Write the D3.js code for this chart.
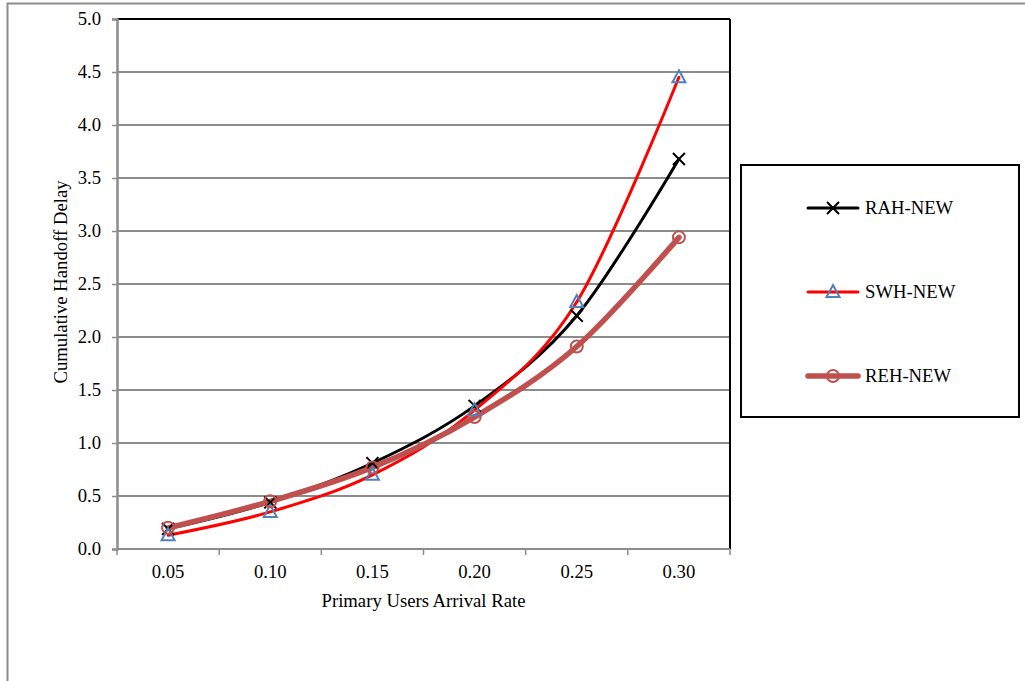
<!DOCTYPE html>
<html>
<head>
<meta charset="utf-8">
<script src="https://cdn.jsdelivr.net/npm/d3@7"></script>
<style>
  html, body { margin: 0; padding: 0; background: #fff; }
  svg { display: block; }
  svg text { font-family: "Liberation Serif", "Times New Roman", serif; fill: #000; }
</style>
</head>
<body>
<svg id="chart" width="1025" height="681"></svg>
<script>
// Categories along the x axis
const arrivalRates = ["0.05", "0.10", "0.15", "0.20", "0.25", "0.30"];

// Cumulative handoff delay per scheme
const rahNew = [0.19, 0.44, 0.81, 1.35, 2.20, 3.68];
const swhNew = [0.13, 0.35, 0.70, 1.31, 2.33, 4.45];
const rehNew = [0.20, 0.45, 0.77, 1.245, 1.91, 2.94];

const yTicks = [0, 0.5, 1.0, 1.5, 2.0, 2.5, 3.0, 3.5, 4.0, 4.5, 5.0];

const FONT = "Liberation Serif";
const FS = 18.7;

const series = [
  { name: "RAH-NEW", values: rahNew, color: "#000000", width: 3, marker: "cross" },
  { name: "SWH-NEW", values: swhNew, color: "#ff0000", width: 3, marker: "triangle" },
  { name: "REH-NEW", values: rehNew, color: "#c0504d", width: 5.5, marker: "circle" }
];

const svg = d3.select("#chart");

// Outer frame of the figure
svg.append("path")
  .attr("d", "M7.5,681 L7.5,3.5 L1025,3.5")
  .attr("fill", "none").attr("stroke", "#8c8c8c").attr("stroke-width", 2);

const plot = { left: 117, top: 19, right: 730, bottom: 549 };

const x = d3.scaleBand().domain(arrivalRates).range([plot.left, plot.right]);
const y = d3.scaleLinear().domain([0, 5]).range([plot.bottom, plot.top]);

// Horizontal gridlines
svg.append("g").selectAll("line").data(yTicks.filter(t => t > 0 && t < 5)).join("line")
  .attr("x1", plot.left).attr("x2", plot.right)
  .attr("y1", d => y(d)).attr("y2", d => y(d))
  .attr("stroke", "#8c8c8c").attr("stroke-width", 2);

// Plot frame: top and right edges
svg.append("line").attr("x1", plot.left).attr("x2", plot.right)
  .attr("y1", plot.top).attr("y2", plot.top).attr("stroke", "#000").attr("stroke-width", 2);
svg.append("line").attr("x1", plot.right).attr("x2", plot.right)
  .attr("y1", plot.top).attr("y2", plot.bottom).attr("stroke", "#000").attr("stroke-width", 2);

// Y axis
const yAxis = svg.append("g")
  .attr("transform", `translate(${plot.left},0)`)
  .call(d3.axisLeft(y).tickValues(yTicks).tickFormat(d3.format(".1f")).tickSize(5).tickPadding(11));
yAxis.attr("font-family", FONT).attr("font-size", FS);
yAxis.select(".domain").attr("stroke", "#8c8c8c").attr("stroke-width", 2.5);
yAxis.selectAll(".tick line").attr("stroke", "#8c8c8c").attr("stroke-width", 1.5);
yAxis.selectAll(".tick text").attr("font-size", FS).attr("fill", "#000").attr("font-family", FONT);

// X axis: labels at category centres, ticks at category boundaries
const xAxisG = svg.append("g").attr("transform", `translate(0,${plot.bottom})`);
xAxisG.append("line").attr("x1", plot.left).attr("x2", plot.right)
  .attr("y1", 0).attr("y2", 0).attr("stroke", "#8c8c8c").attr("stroke-width", 2);
const boundaries = arrivalRates.map(c => x(c)).concat([x(arrivalRates[arrivalRates.length - 1]) + x.bandwidth()]);
xAxisG.selectAll("line.tk").data(boundaries).join("line").attr("class", "tk")
  .attr("x1", d => d).attr("x2", d => d).attr("y1", 0).attr("y2", 6)
  .attr("stroke", "#8c8c8c").attr("stroke-width", 1.5);
xAxisG.selectAll("text").data(arrivalRates).join("text")
  .attr("x", d => x(d) + x.bandwidth() / 2).attr("y", 29)
  .attr("text-anchor", "middle").attr("font-family", FONT).attr("font-size", FS).text(d => d);

// Axis titles
svg.append("text").attr("x", (plot.left + plot.right) / 2).attr("y", 607)
  .attr("text-anchor", "middle").attr("font-family", FONT).attr("font-size", FS)
  .text("Primary Users Arrival Rate");
svg.append("text")
  .attr("transform", `translate(67,282) rotate(-90)`)
  .attr("text-anchor", "middle").attr("font-family", FONT).attr("font-size", FS)
  .text("Cumulative Handoff Delay");

const cx = d => x(d) + x.bandwidth() / 2;
const line = d3.line().curve(d3.curveCardinal.tension(0));

function drawMarker(g, type, px, py) {
  if (type === "cross") {
    const s = 6;
    g.append("path").attr("d", `M${px - s},${py - s}L${px + s},${py + s}M${px - s},${py + s}L${px + s},${py - s}`)
      .attr("stroke", "#000").attr("stroke-width", 2).attr("fill", "none");
  } else if (type === "triangle") {
    g.append("path").attr("d", `M${px},${py - 7}L${px + 6.5},${py + 5}L${px - 6.5},${py + 5}Z`)
      .attr("stroke", "#4f81bd").attr("stroke-width", 2).attr("fill", "none");
  } else {
    g.append("circle").attr("cx", px).attr("cy", py).attr("r", 6)
      .attr("stroke", "#c0504d").attr("stroke-width", 2).attr("fill", "none");
  }
}

// Lines
series.forEach(s => {
  const pts = s.values.map((v, i) => [cx(arrivalRates[i]), y(v)]);
  svg.append("path").attr("d", line(pts)).attr("fill", "none")
    .attr("stroke", s.color).attr("stroke-width", s.width)
    .attr("stroke-linecap", "round").attr("stroke-linejoin", "round");
});
series.forEach(s => {
  const g = svg.append("g");
  s.values.forEach((v, i) => drawMarker(g, s.marker, cx(arrivalRates[i]), y(v)));
});

// Legend
const legend = svg.append("g");
legend.append("rect").attr("x", 741).attr("y", 165).attr("width", 278).attr("height", 252)
  .attr("fill", "#fff").attr("stroke", "#000").attr("stroke-width", 2);
const legendRows = [208, 292, 376];
series.forEach((s, i) => {
  const ly = legendRows[i];
  legend.append("line").attr("x1", 808).attr("x2", 858).attr("y1", ly).attr("y2", ly)
    .attr("stroke", s.color).attr("stroke-width", s.width).attr("stroke-linecap", "round");
  drawMarker(legend, s.marker, 833, ly);
  legend.append("text").attr("x", 865).attr("y", ly + 6).attr("font-family", FONT)
    .attr("font-size", FS).text(s.name);
});
</script>
</body>
</html>
